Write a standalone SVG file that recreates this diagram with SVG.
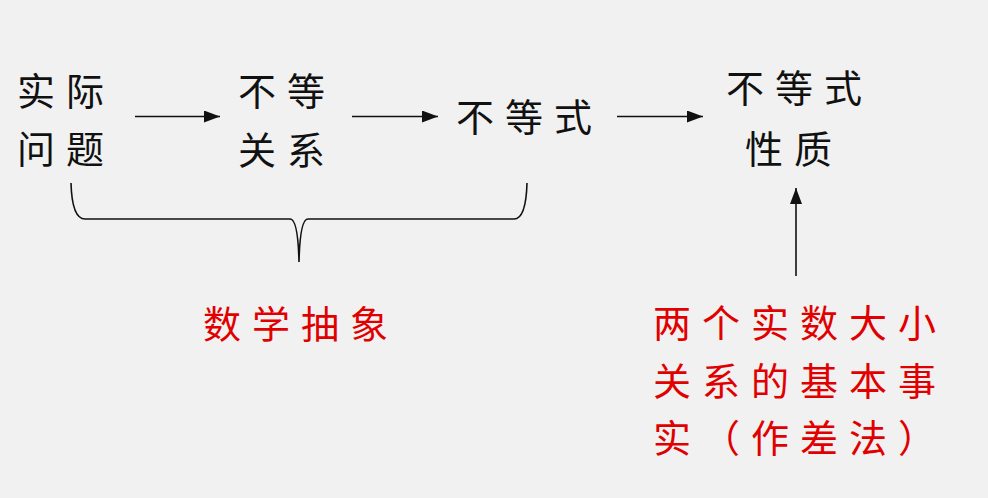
<svg xmlns="http://www.w3.org/2000/svg" width="988" height="498" viewBox="0 0 988 498">
  <style>
    .t { font-family: "Noto Sans CJK SC", "Noto Sans CJK JP", sans-serif; font-size: 38px; letter-spacing: 11px; fill: #111; }
    .r { fill: #e00000; }
    .ln { stroke: #111; stroke-width: 1.6; fill: none; }
  </style>
  <defs>
    <marker id="ah2" viewBox="0 0 16 12" refX="16" refY="6" markerWidth="16" markerHeight="12" markerUnits="userSpaceOnUse" orient="auto">
      <path d="M0,0 L16,6 L0,12 Z" fill="#111"/>
    </marker>
  </defs>
  <rect width="988" height="498" fill="#f1f1f1"/>

  <g id="n-shiji">
    <text class="t" x="17" y="105">实际</text>
    <text class="t" x="17" y="163">问题</text>
  </g>
  <g id="n-budengguanxi">
    <text class="t" x="238" y="105">不等</text>
    <text class="t" x="238" y="164">关系</text>
  </g>
  <g id="n-budengshi">
    <text class="t" x="456" y="131">不等式</text>
  </g>
  <g id="n-xingzhi">
    <text class="t" x="726" y="102">不等式</text>
    <text class="t" x="745" y="163">性质</text>
  </g>
  <g id="n-chouxiang">
    <text class="t r" x="203" y="338">数学抽象</text>
  </g>
  <g id="n-shishi">
    <text class="t r" x="653" y="337">两个实数大小</text>
    <text class="t r" x="653" y="395">关系的基本事</text>
    <text class="t r" x="653" y="452">实（作差法）</text>
  </g>

  <g id="connectors">
    <line class="ln" x1="135" y1="116.5" x2="220" y2="116.5" marker-end="url(#ah2)"/>
    <line class="ln" x1="352" y1="116.5" x2="438" y2="116.5" marker-end="url(#ah2)"/>
    <line class="ln" x1="617" y1="116.5" x2="703" y2="116.5" marker-end="url(#ah2)"/>
    <line class="ln" x1="796" y1="276" x2="796" y2="188" marker-end="url(#ah2)"/>
    <path class="ln" d="M71,183 Q72,219 85,219 L290,219 Q298,219 299,262 Q300,219 308,219 L514,219 Q526,219 527,183"/>
  </g>
</svg>
